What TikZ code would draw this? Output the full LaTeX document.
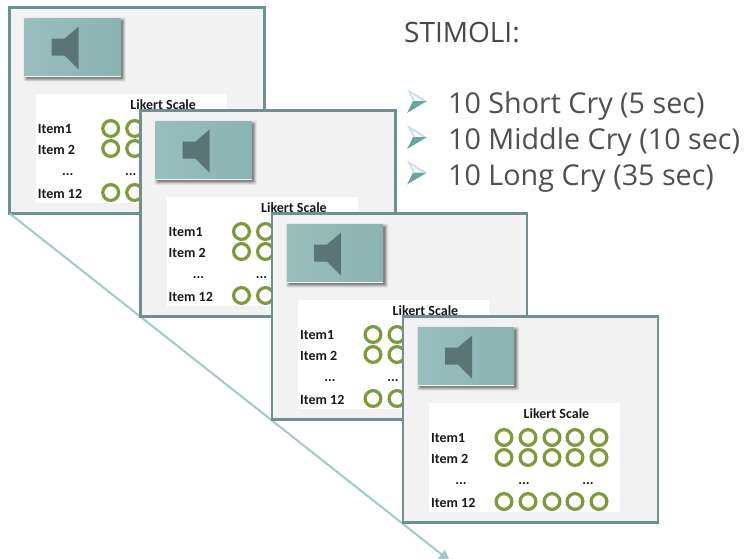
\documentclass[tikz,border=0pt]{standalone}
\usepackage{fontspec}
\setmainfont{Open Sans}
\newfontfamily\itemfont{Carlito}
\usetikzlibrary{arrows.meta,calc}
\definecolor{panelline}{HTML}{6F908E}
\definecolor{panelfill}{HTML}{F2F2F2}
\definecolor{boxl}{HTML}{98BFBD}
\definecolor{boxr}{HTML}{8BB3B1}
\definecolor{spk}{HTML}{5A7573}
\definecolor{ring}{HTML}{7D9B3C}
\definecolor{arrowc}{HTML}{A3CAC8}
\definecolor{bullet}{HTML}{68A5A0}
\definecolor{txt}{HTML}{505050}
\tikzset{
  panelbox/.style={draw=panelline,line width=2.8pt,fill=panelfill,minimum width=255pt,minimum height=206pt,inner sep=0,outer sep=0,anchor=north west},
  whitebox/.style={fill=white,minimum width=191pt,minimum height=109pt,inner sep=0,outer sep=0,anchor=north west},
  soundbox/.style={left color=boxl,right color=boxr,minimum width=96pt,minimum height=58pt,inner sep=0,outer sep=0,anchor=north west},
  ringnode/.style={circle,draw=ring,line width=3.2pt,minimum size=15.8pt,inner sep=0,outer sep=0},
  itemlabel/.style={font=\itemfont\bfseries\fontsize{14}{14}\selectfont,text=black!90,inner sep=0,anchor=base west},
  dotslabel/.style={font=\itemfont\bfseries\fontsize{14}{14}\selectfont,text=black!90,inner sep=0,anchor=base},
  bodytext/.style={font=\fontsize{28.7}{28.7}\selectfont,text=txt,inner sep=0,anchor=base west},
  connector/.style={draw=arrowc,line width=2pt,-{Triangle[length=11pt,width=11pt]}}
}
\newcommand{\stimpanel}[3]{%
  \node[panelbox] (#1) at (#2,#3) {};
  \begin{scope}[shift={(#2,#3)}]
    \foreach \d/\o in {3/.08,2/.12,1/.16,0/.2}{
      \fill[black,opacity=\o,rounded corners=1pt] (17-\d,13-\d) rectangle (113+\d,71+\d);
    }
    \node[soundbox] (#1box) at (15,11) {};
    \draw[white!85!boxl,line width=.7pt] (15,69) -- (111,69);
    \fill[spk] (42,31) -- (55,31) -- (69,19) -- (69,62) -- (55,48) -- (42,48) -- cycle;
    \node[whitebox] (#1white) at (26,86) {};
    \node[font=\itemfont\bfseries\fontsize{14}{14}\selectfont,text=black!90,inner sep=0] (#1title) at (153.5,97.5) {Likert Scale};
    \node[itemlabel] (#1a) at (28,126) {Item1};
    \node[itemlabel] (#1b) at (28,146.5) {Item 2};
    \node[dotslabel] (#1c) at (58,168) {...};
    \node[itemlabel] (#1d) at (28,190.5) {Item 12};
    \node[dotslabel] (#1e) at (121,168) {...};
    \node[dotslabel] (#1f) at (185,168) {...};
    \foreach \x/\n in {101/1,125/2,149/3,172/4,196/5}{
      \node[ringnode] (#1r\n) at (\x,121) {};
      \node[ringnode] (#1s\n) at (\x,141) {};
      \node[ringnode] (#1t\n) at (\x,185) {};
    }
  \end{scope}
}
\newcommand{\bulletmark}[1]{%
  \begin{scope}[shift={(407,#1)}]
    \fill[bullet] (20,0) -- (0,12) -- (6,0) -- cycle;
    \fill[bullet!35] (20,0) -- (0,-12) -- (6,0) -- (8.5,0) -- (3.5,-8) -- (16,0) -- cycle;
  \end{scope}
}
\begin{document}
\begin{tikzpicture}[x=1pt,y=-1pt]
\useasboundingbox (0,0) rectangle (745,558);
\clip (0,0) rectangle (745,558);
\fill[white] (0,0) rectangle (745,558);
\coordinate (arrowend) at (450,561);
\stimpanel{pa}{9.7}{7.5}
\draw[connector] (pa.south west) -- (arrowend);
\stimpanel{pb}{140.5}{110.5}
\stimpanel{pc}{272}{213.5}
\stimpanel{pd}{403}{316.5}
\node[font=\fontsize{28}{28}\selectfont,text=txt!90!black,inner sep=0,anchor=base west] (head) at (404,42) {STIMOLI:};
\bulletmark{101}
\bulletmark{137}
\bulletmark{172.5}
\node[bodytext] (l1) at (448,113) {10 Short Cry (5 sec)};
\node[bodytext] (l2) at (448,149) {10 Middle Cry (10 sec)};
\node[bodytext] (l3) at (448,185) {10 Long Cry (35 sec)};
\end{tikzpicture}
\end{document}
